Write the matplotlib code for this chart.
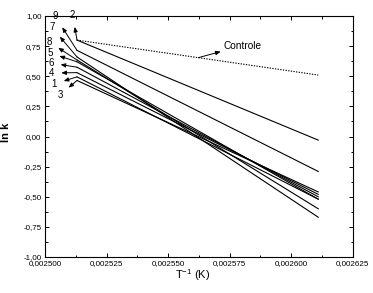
import matplotlib
matplotlib.use("Agg")
import matplotlib.pyplot as plt
from matplotlib.ticker import MultipleLocator, FuncFormatter

plt.rcParams['font.family'] = ['Liberation Sans', 'DejaVu Sans']
plt.rcParams['mathtext.fontset'] = 'custom'
plt.rcParams['mathtext.rm'] = 'Liberation Sans'
plt.rcParams['mathtext.it'] = 'Liberation Sans'

# Data
x_start = 0.002513
x_end = 0.002611
control_values = [0.80, 0.51]
series_names = ['2', '9', '7', '8', '5', '6', '4', '1', '3']
series_start = [0.80, 0.715, 0.66, 0.635, 0.62, 0.575, 0.53, 0.495, 0.465]
series_end = [-0.03, -0.29, -0.67, -0.60, -0.52, -0.50, -0.48, -0.52, -0.46]
x_ticks = [0.002500, 0.002525, 0.002550, 0.002575, 0.002600, 0.002625]
y_ticks = [-1.00, -0.75, -0.50, -0.25, 0.00, 0.25, 0.50, 0.75, 1.00]

W, H = 373, 293
fig = plt.figure(figsize=(W / 100, H / 100), dpi=100)
ax = fig.add_axes([45 / W, 1 - 257 / H, (352.7 - 45) / W, (257 - 16) / H])

ax.plot([x_start, x_end], control_values, color='black', lw=0.8, ls=(0, (1.2, 1.2)))
for s, e in zip(series_start, series_end):
    ax.plot([x_start, x_end], [s, e], color='black', lw=0.8)

ax.set_xlim(0.0025, 0.002625)
ax.set_ylim(-1, 1)
ax.set_xticks(x_ticks)
ax.set_yticks(y_ticks)
ax.xaxis.set_minor_locator(MultipleLocator(0.0000125))
ax.yaxis.set_minor_locator(MultipleLocator(0.125))
ax.xaxis.set_major_formatter(FuncFormatter(lambda v, p: f"{v:.6f}".replace('.', ',')))
ax.yaxis.set_major_formatter(FuncFormatter(lambda v, p: f"{v:.2f}".replace('.', ',')))
ax.tick_params(which='both', direction='in', top=True, right=True, width=0.7, labelsize=5.8, pad=2.5)
ax.tick_params(which='major', length=3)
ax.tick_params(which='minor', length=1.8)
for sp in ax.spines.values():
    sp.set_linewidth(0.8)

# labels with arrows (positions in data coords derived from pixel estimates)
def px2data(px, py):
    xd = 0.0025 + (px - 45) / (352.7 - 45) * 0.000125
    yd = 1 - (py - 16) / (257 - 16) * 2
    return xd, yd

label_pos = {'9': (55, 16), '2': (72.7, 15), '7': (51.7, 27), '8': (49.3, 42),
             '5': (50, 53), '6': (51, 63), '4': (51.7, 73), '1': (54.3, 84), '3': (60, 95)}
for name, s in zip(series_names, series_start):
    tx, ty = px2data(*label_pos[name])
    ax.annotate(name, xy=(x_start, s), xytext=(tx, ty), fontsize=7, ha='center', va='center',
                annotation_clip=False,
                arrowprops=dict(arrowstyle='<|-,head_length=0.4,head_width=0.17', color='black', lw=0.7,
                                shrinkA=3, shrinkB=0))

xc = 0.0025 + (198.3 - 45) / (352.7 - 45) * 0.000125
yc = control_values[0] + (control_values[1] - control_values[0]) * (xc - x_start) / (x_end - x_start)
tx, ty = px2data(223.5, 45.7)
ax.annotate('Controle', xy=(xc, yc), xytext=(tx, ty), fontsize=7.3, ha='left', va='center',
            arrowprops=dict(arrowstyle='<|-,head_length=0.4,head_width=0.17', color='black', lw=0.7,
                            shrinkA=0, shrinkB=0))

fig.text(6 / W, 1 - 132 / H, 'ln k', rotation=90, ha='center', va='center', fontsize=8, fontweight='bold')
fig.text(193 / W, 1 - 275 / H, 'T$^{\\mathregular{-1}}$ (K)', ha='center', va='center', fontsize=8)

fig.savefig('out.png', dpi=100)
